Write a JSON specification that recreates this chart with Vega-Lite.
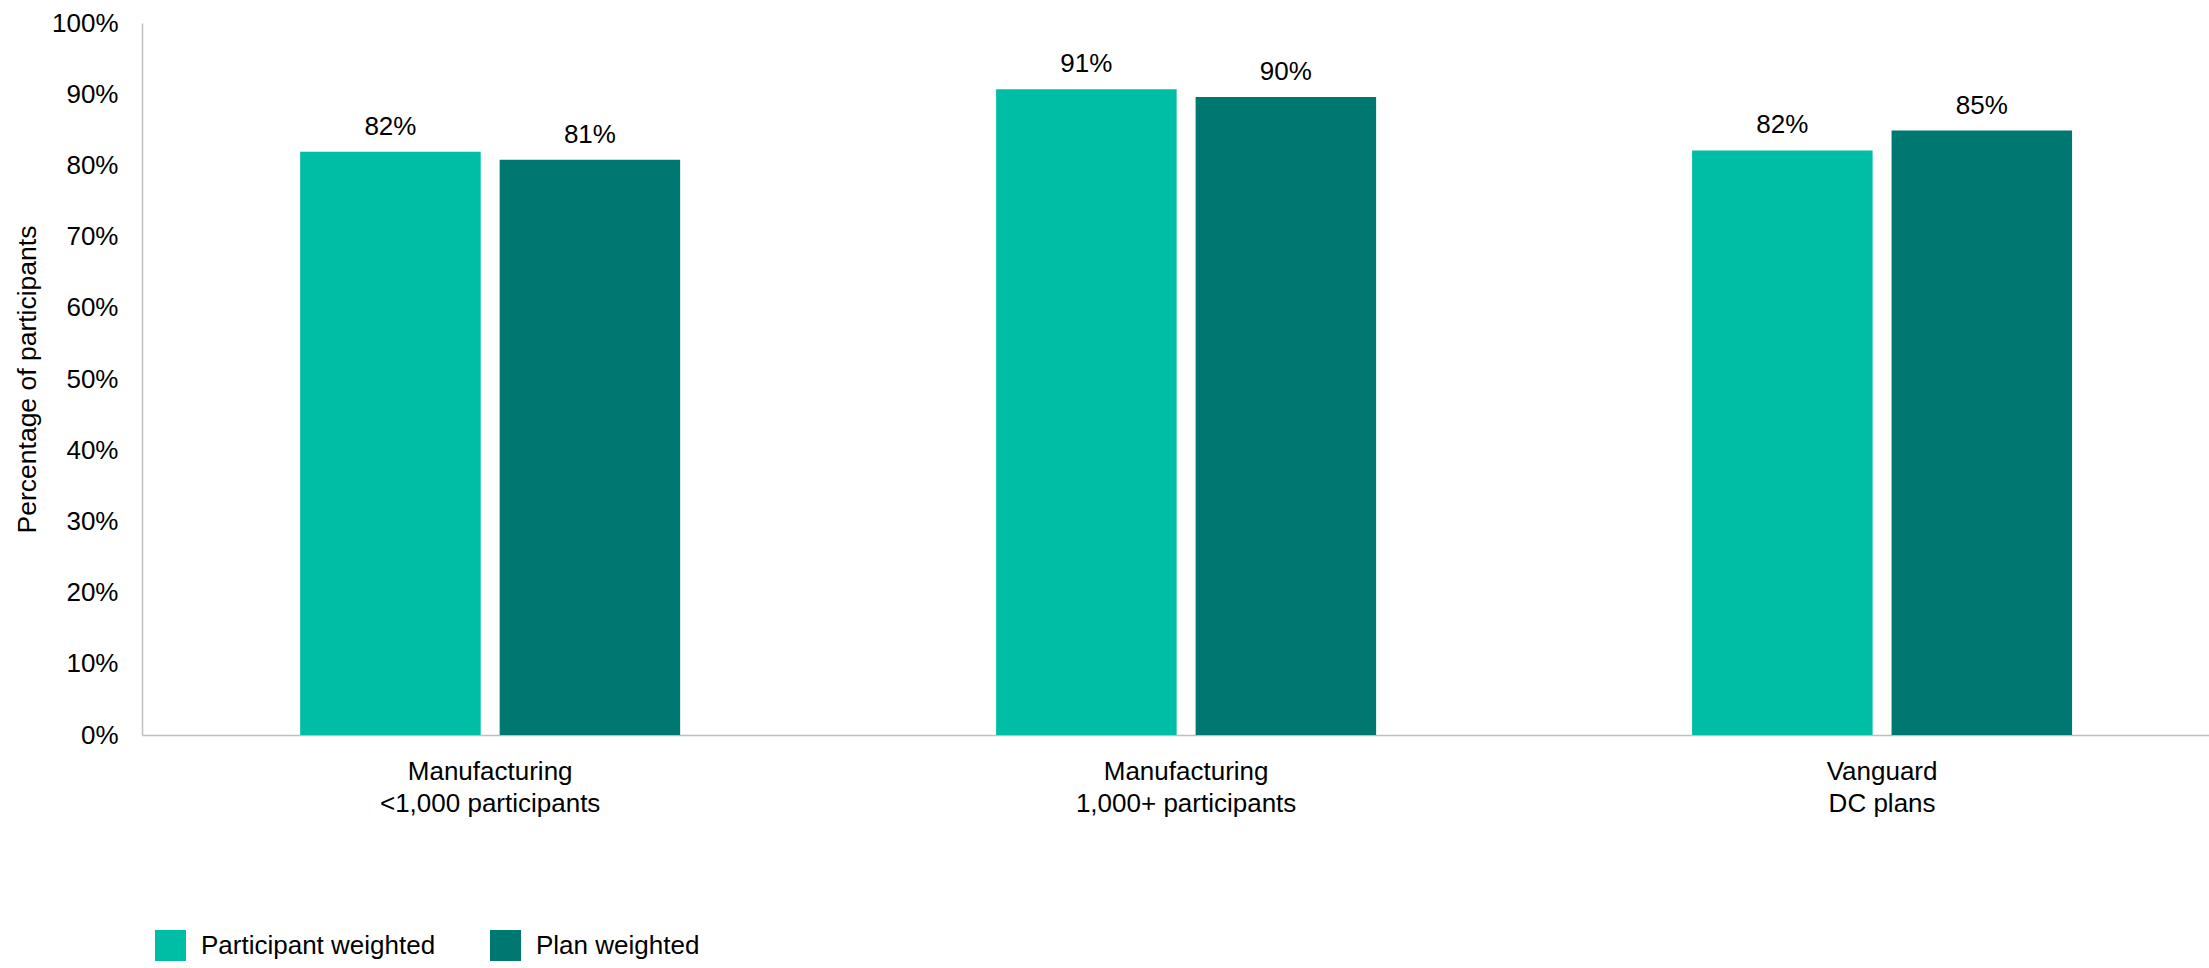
{
  "$schema": "https://vega.github.io/schema/vega-lite/v6.json",
  "width": 2067,
  "height": 712,
  "autosize": {"type": "none"},
  "padding": {"left": 142, "top": 23, "right": 0, "bottom": 233},
  "background": "white",
  "config": {
    "view": {"stroke": null},
    "font": "Liberation Sans",
    "axis": {"labelFont": "Liberation Sans", "titleFont": "Liberation Sans", "labelColor": "#000000", "titleColor": "#000000"},
    "legend": {"labelFont": "Liberation Sans"}
  },
  "data": {
    "values": [
      {"category": "Manufacturing|<1,000 participants", "series": "Participant weighted", "value": 0.819},
      {"category": "Manufacturing|<1,000 participants", "series": "Plan weighted", "value": 0.808},
      {"category": "Manufacturing|1,000+ participants", "series": "Participant weighted", "value": 0.907},
      {"category": "Manufacturing|1,000+ participants", "series": "Plan weighted", "value": 0.896},
      {"category": "Vanguard|DC plans", "series": "Participant weighted", "value": 0.821},
      {"category": "Vanguard|DC plans", "series": "Plan weighted", "value": 0.849}
    ]
  },
  "encoding": {
    "x": {
      "field": "category",
      "type": "nominal",
      "sort": null,
      "scale": {"paddingInner": 0.454, "paddingOuter": 0.212, "align": 0.536},
      "axis": {
        "title": null,
        "labelAngle": 0,
        "labelExpr": "split(datum.label, '|')",
        "labelFontSize": 26,
        "labelLimit": 0,
        "labelLineHeight": 32,
        "labelBaseline": "top",
        "labelPadding": 23,
        "ticks": false,
        "domainColor": "#BFBFBF",
        "domainWidth": 1.5
      }
    },
    "xOffset": {
      "field": "series",
      "type": "nominal",
      "scale": {"paddingInner": 0.095, "paddingOuter": 0}
    },
    "y": {
      "field": "value",
      "type": "quantitative",
      "scale": {"domain": [0, 1], "nice": false},
      "axis": {
        "title": "Percentage of participants",
        "titleFontSize": 26.5,
        "titleFontWeight": "normal",
        "titlePadding": 10,
        "format": ".0%",
        "values": [0, 0.1, 0.2, 0.3, 0.4, 0.5, 0.6, 0.7, 0.8, 0.9, 1],
        "labelFontSize": 26,
        "labelPadding": 24,
        "ticks": false,
        "grid": false,
        "domainColor": "#BFBFBF",
        "domainWidth": 1.5
      }
    }
  },
  "layer": [
    {
      "mark": {"type": "bar"},
      "encoding": {
        "color": {
          "field": "series",
          "type": "nominal",
          "scale": {"domain": ["Participant weighted", "Plan weighted"], "range": ["#00BDA5", "#007872"]},
          "legend": {
            "title": null,
            "orient": "none",
            "legendX": 13,
            "legendY": 907,
            "direction": "horizontal",
            "symbolType": "square",
            "symbolSize": 961,
            "symbolStrokeWidth": 0,
            "labelFontSize": 26,
            "labelLimit": 0,
            "labelColor": "#000000",
            "labelOffset": 15,
            "columnPadding": 54,
            "padding": 0,
            "encode": {
              "symbols": {
                "enter": {"fill": {"signal": "datum.value === 'Participant weighted' ? '#1DA59B' : '#13645E'"}},
                "update": {"fill": {"signal": "datum.value === 'Participant weighted' ? '#1DA59B' : '#13645E'"}, "opacity": {"value": 1}}
              }
            }
          }
        }
      }
    },
    {
      "mark": {"type": "text", "baseline": "alphabetic", "dy": -17, "fontSize": 26, "color": "#000000", "font": "Liberation Sans"},
      "encoding": {
        "text": {"field": "value", "type": "quantitative", "format": ".0%"}
      }
    }
  ]
}
